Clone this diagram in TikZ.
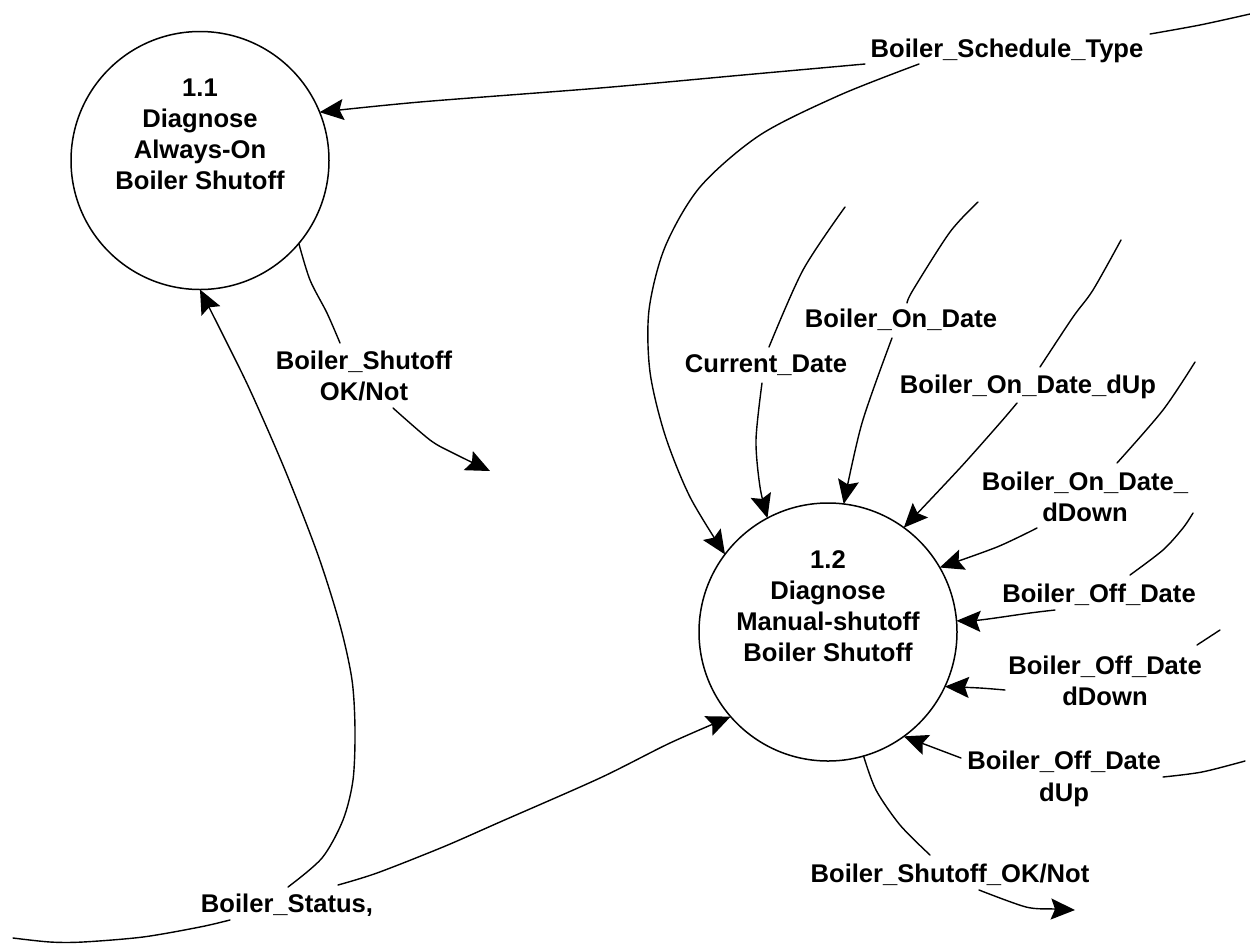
\documentclass[tikz,border=0pt]{standalone}
\usepackage{fontspec}
\setmainfont{Liberation Sans}
\usetikzlibrary{arrows.meta}
\tikzset{
  proc/.style={circle, draw, line width=1.5pt, minimum size=258pt, inner sep=0pt, outer sep=0pt},
  ctxt/.style={font=\fontsize{25.6}{31.2}\selectfont\bfseries, align=center, inner sep=0pt},
  txt/.style={font=\fontsize{25.6}{31.5}\selectfont\bfseries, align=center, inner sep=0pt},
  flow/.style={line width=1.4pt, line join=round, line cap=round},
  arr/.style={flow, -{Stealth[length=24pt,width=21pt,inset=4pt]}},
}
\begin{document}
\begin{tikzpicture}[x=1pt,y=-1pt]
\useasboundingbox (0,0) rectangle (1250,943);
\fill[white] (0,0) rectangle (1250,943);

% processes
\node[proc] (p11) at (200,160.5) {};
\node[ctxt] (t11) at (200,134.5) {1.1\\Diagnose\\Always-On\\Boiler Shutoff};
\node[proc] (p12) at (828,632) {};
\node[ctxt] (t12) at (828,606) {1.2\\Diagnose\\Manual-shutoff\\Boiler Shutoff};

% labels
\node[txt] (lSched) at (1007,51) {Boiler\_Schedule\_Type};
\node[txt] (lCur) at (766,365) {Current\_Date};
\node[txt] (lOn) at (901,320) {Boiler\_On\_Date};
\node[txt] (lOnUp) at (1028,387) {Boiler\_On\_Date\_dUp};
\node[txt] (lOnDn) at (1085,497) {Boiler\_On\_Date\_\\dDown};
\node[txt] (lOff) at (1099,595) {Boiler\_Off\_Date};
\node[txt] (lOffDn) at (1105,681) {Boiler\_Off\_Date\\dDown};
\node[txt] (lOffUp) at (1064,779) {Boiler\_Off\_Date\\dUp};
\node[txt] (lOut1) at (364,376) {Boiler\_Shutoff\\OK/Not};
\node[txt] (lStat) at (287,905) {Boiler\_Status,};
\node[txt] (lOut2) at (950,875) {Boiler\_Shutoff\_OK/Not};

% Boiler_Schedule_Type
\draw[flow] plot[smooth] coordinates {(1250,14) (1200,25) (1150,34)};
\draw[arr] plot[smooth] coordinates {(865,64) (743,75) (600,88) (420,102) (p11.22)};
\draw[arr] plot[smooth] coordinates {(919,64) (840,95) (760,135) (700,187) (665,247) (649,310) (650,372) (665,435) (690,497) (p12.143)};

% Current_Date
\draw[flow] plot[smooth] coordinates {(845,207) (803,270) (769,347)};
\draw[arr] plot[smooth] coordinates {(762,383) (756,440) (760,487) (p12.118)};

% Boiler_On_Date
\draw[flow] plot[smooth] coordinates {(978,202) (950,232) (913,290) (907,303)};
\draw[arr] plot[smooth] coordinates {(892,338) (862,423) (p12.83)};

% Boiler_On_Date_dUp
\draw[flow] plot[smooth] coordinates {(1121,240) (1093,290) (1073,317) (1040,367)};
\draw[arr] plot[smooth] coordinates {(1017,403) (1000,423) (960,468) (p12.54)};

% Boiler_On_Date_dDown
\draw[flow] plot[smooth] coordinates {(1195,362) (1163,410) (1117,463)};
\draw[arr] plot[smooth] coordinates {(1037,528) (997,547) (p12.30)};

% Boiler_Off_Date
\draw[flow] plot[smooth] coordinates {(1193,513) (1183,528) (1163,550) (1130,575)};
\draw[arr] plot[smooth] coordinates {(1055,610) (1030,613) (980,620) (p12.5)};

% Boiler_Off_Date dDown
\draw[flow] (1220,630) -- (1197,645);
\draw[arr] plot[smooth] coordinates {(1005,690) (980,688) (p12.-25)};

% Boiler_Off_Date dUp
\draw[flow] plot[smooth] coordinates {(1163,777) (1202,772) (1245,761)};
\draw[arr] (961,758) -- (p12.-54);

% Boiler_Status
\draw[flow] plot[smooth] coordinates {(13,938) (50,942) (83,942) (143,937) (200,927) (230,920)};
\draw[arr] plot[smooth] coordinates {(338,885) (377,873) (443,847) (500,822) (600,778) (670,743) (p12.221)};
\draw[arr] plot[smooth] coordinates {(288,887) (322,858) (343,820) (353,780) (355,730) (352,680) (340,625) (318,555) (285,470) (250,390) (222,333) (p11.270)};

% outputs
\draw[flow] plot[smooth] coordinates {(p11.-40) (310,280) (327,313) (340,343)};
\draw[arr] plot[smooth] coordinates {(393,408) (430,440) (453,453) (490,471)};
\draw[flow] plot[smooth] coordinates {(p12.-74) (876,790) (900,825) (930,855)};
\draw[arr] plot[smooth] coordinates {(979,890) (1026,907) (1054,909) (1075,910)};
\end{tikzpicture}
\end{document}
